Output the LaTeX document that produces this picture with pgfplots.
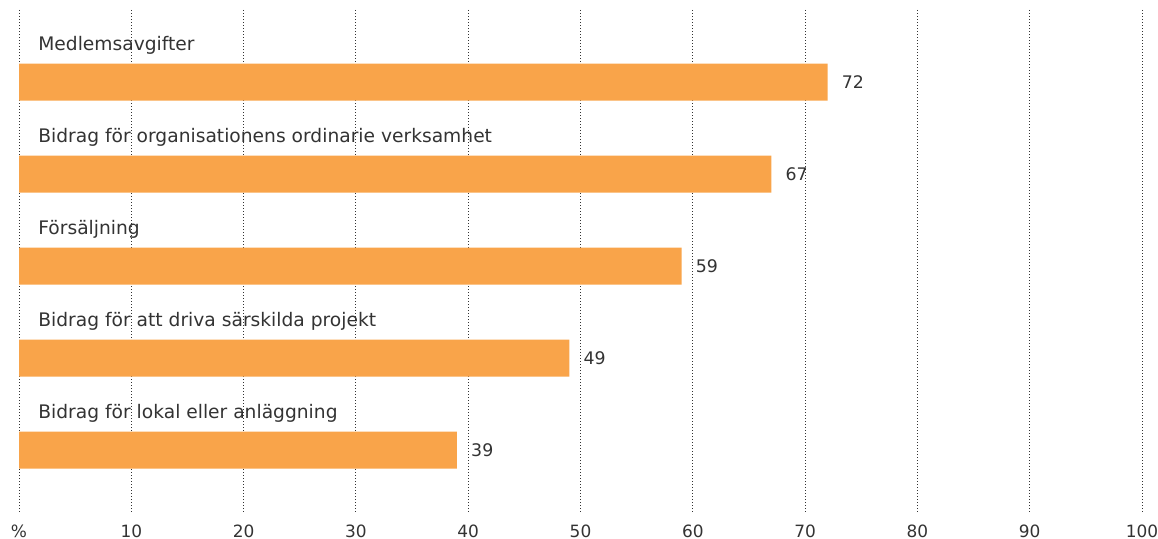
\documentclass[border=0pt]{standalone}
\usepackage{pgfplots}
\pgfplotsset{compat=1.18}
\usepackage{fontspec}
\setmainfont{DejaVu Sans}
\definecolor{barc}{HTML}{F9A44A}
\definecolor{txt}{HTML}{333333}
\begin{document}
\begin{tikzpicture}
\begin{axis}[name=ax, scale only axis, width=842.25pt, height=378pt,
  xmin=0, xmax=100, ymin=10, ymax=514, y dir=reverse,
  /pgf/number format/assume math mode=true,
  xtick={0,10,...,100},
  xticklabels={\%,10,20,30,40,50,60,70,80,90,100},
  ytick=\empty,
  axis line style={draw=none},
  major tick length=0pt,
  xmajorgrids,
  grid style={draw=black!80, line width=0.75pt, dash pattern=on 0.75pt off 1.5pt},
  xticklabel style={font=\fontsize{12.7}{15}\selectfont, text=txt, anchor=base, yshift=-17.25pt, inner sep=0pt},
  clip=false,
  point meta=x,
  nodes near coords,
  nodes near coords style={anchor=west, inner sep=0pt, xshift=10.5pt, font=\fontsize{13}{15}\selectfont, text=txt},
]
\addplot[xbar, bar width=37, fill=barc, draw=none] coordinates {
  (72,82.2) (67,174.2) (59,266.2) (49,358.2) (39,450.2)
};
\node[anchor=base west, inner sep=0pt, font=\fontsize{14}{16}\selectfont, text=txt] at (axis cs:1.7,50.7) {Medlemsavgifter};
\node[anchor=base west, inner sep=0pt, font=\fontsize{14}{16}\selectfont, text=txt] at (axis cs:1.7,142.7) {Bidrag för organisationens ordinarie verksamhet};
\node[anchor=base west, inner sep=0pt, font=\fontsize{14}{16}\selectfont, text=txt] at (axis cs:1.7,234.7) {Försäljning};
\node[anchor=base west, inner sep=0pt, font=\fontsize{14}{16}\selectfont, text=txt] at (axis cs:1.7,326.7) {Bidrag för att driva särskilda projekt};
\node[anchor=base west, inner sep=0pt, font=\fontsize{14}{16}\selectfont, text=txt] at (axis cs:1.7,418.7) {Bidrag för lokal eller anläggning};
\end{axis}
\pgfresetboundingbox
\path[use as bounding box] ([shift={(-14.25pt,-18.75pt)}]ax.south west) rectangle ([shift={(12pt,7.5pt)}]ax.north east);
\end{tikzpicture}
\end{document}
